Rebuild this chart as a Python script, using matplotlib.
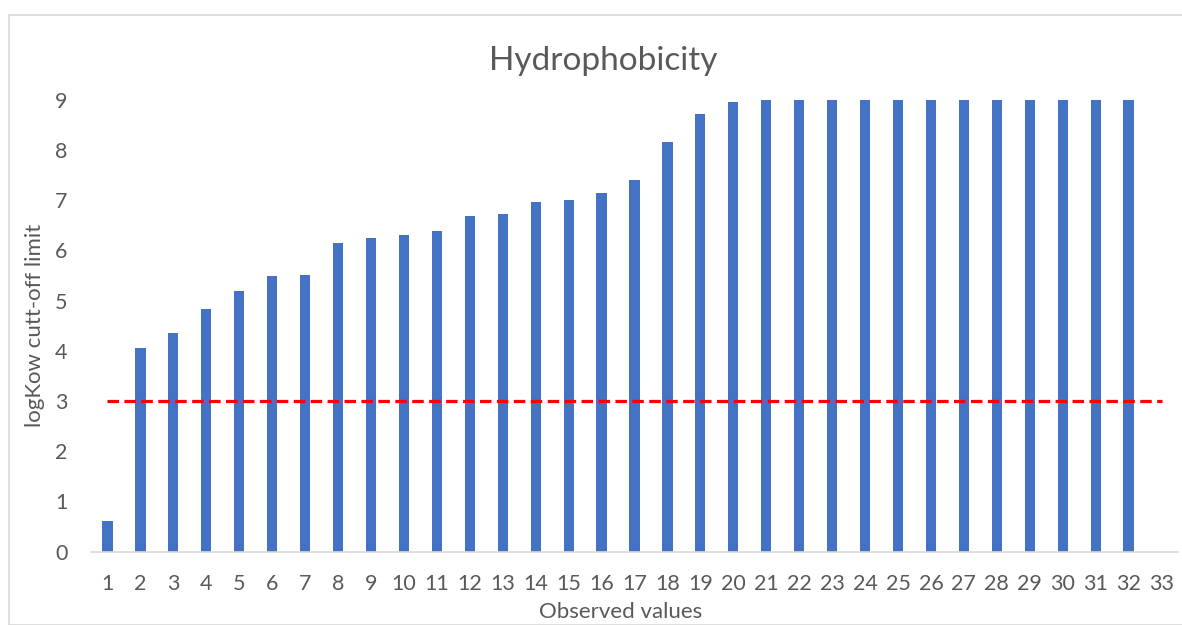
import matplotlib.pyplot as plt
from matplotlib.patches import Rectangle

# observed values 1..33 (33 has no bar)
obs = list(range(1, 34))
logkow = [0.62, 4.06, 4.35, 4.84, 5.19, 5.49, 5.51, 6.15, 6.25, 6.30,
          6.39, 6.68, 6.73, 6.96, 7.01, 7.14, 7.40, 8.16, 8.72, 8.96,
          9.0, 9.0, 9.0, 9.0, 9.0, 9.0, 9.0, 9.0, 9.0, 9.0,
          9.0, 9.0, 0.0]
cutoff = [3] * 33

plt.rcParams['font.family'] = ['Lato', 'DejaVu Sans']
grey = '#595959'

fig = plt.figure(figsize=(11.82, 6.25), dpi=100)
# chart frame
fig.patches.append(Rectangle((8.5 / 1182, 0), 1.1, 1 - 15 / 625, transform=fig.transFigure,
                             fill=False, edgecolor='#D9D9D9', linewidth=1.2))

ax = fig.add_axes([91 / 1182, 1 - 551.7 / 625, 1087 / 1182, (551.7 - 99.7) / 625])
ax.bar(obs, logkow, width=0.31, color='#4472C4', zorder=2)
ax.plot(obs, cutoff, color='#FF0000', linewidth=2.3, dashes=(3.6, 1.7), zorder=3)

ax.set_xlim(0.5, 33.5)
ax.set_ylim(0, 9)
ax.set_xticks(obs)
ax.set_yticks(range(10))
ax.tick_params(axis='both', length=0, labelsize=15.5, colors=grey)
ax.tick_params(axis='x', pad=16)
ax.tick_params(axis='y', pad=17)
for s in ['top', 'right', 'left']:
    ax.spines[s].set_visible(False)
ax.spines['bottom'].set_color('#D9D9D9')
ax.spines['bottom'].set_linewidth(1.2)

fig.text(603 / 1182, 1 - 61 / 625, 'Hydrophobicity', fontsize=24, color=grey,
         ha='center', va='center')
ax.set_xlabel('Observed values', fontsize=16, color=grey)
ax.xaxis.set_label_coords((621 - 91) / 1087, -(612 - 551.7) / 452)
ax.xaxis.label.set_va('center')
ax.set_ylabel('logKow cutt-off limit', fontsize=16, color=grey)
ax.yaxis.set_label_coords(-(91 - 35) / 1087, 0.5)
ax.yaxis.label.set_va('center')

fig.savefig('out.png', dpi=100)
